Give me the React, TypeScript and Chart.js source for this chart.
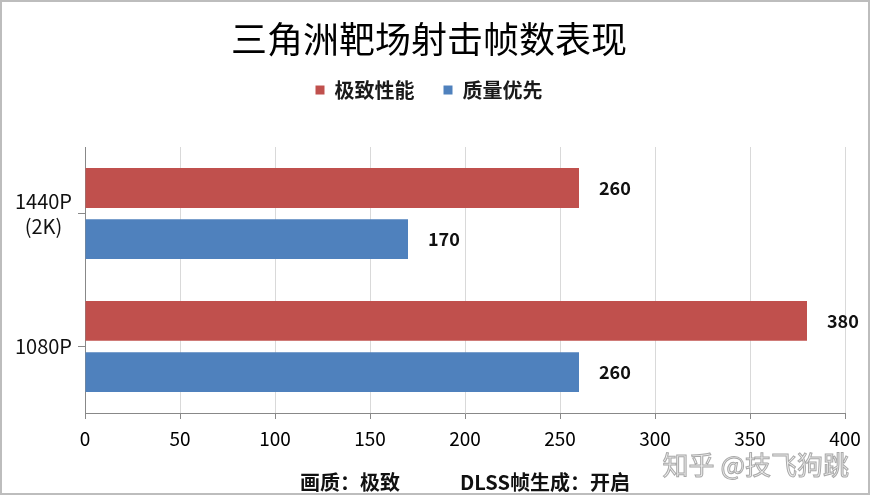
import { useEffect, useRef } from "react";
import Chart, { ChartConfiguration, Plugin } from "chart.js/auto";

// タイトル・凡例・注記
const chartTitle = "三角洲靶场射击帧数表现";
const seriesNames = ["极致性能", "质量优先"];
const seriesColors = ["#C0504D", "#4F81BD"];
const caption = "画质：极致\u3000\u3000\u3000DLSS帧生成：开启";
const watermark = "知乎 @技飞狗跳";

// カテゴリと値
const resolutions = [["1440P", "(2K)"], "1080P"];
const extremeFps = [260, 380];
const qualityFps = [170, 260];

// x軸の目盛り
const xMin = 0;
const xMax = 400;
const xStep = 50;

const FONT = "'Noto Sans CJK SC', 'Noto Sans', sans-serif";

// 凡例の下に余白を足す
const legendMargin: Plugin<"bar"> = {
  id: "legendMargin",
  beforeInit(chart) {
    const legend = chart.legend as any;
    const fit = legend.fit;
    legend.fit = function () {
      fit.bind(legend)();
      this.height += 37;
    };
  },
};

// 白い背景
const whiteBackground: Plugin<"bar"> = {
  id: "whiteBackground",
  beforeDraw(chart) {
    const ctx = chart.ctx;
    ctx.save();
    ctx.fillStyle = "#ffffff";
    ctx.fillRect(0, 0, chart.width, chart.height);
    ctx.restore();
  },
};

// 棒の右側に値を表示
const barValues: Plugin<"bar"> = {
  id: "barValues",
  afterDatasetsDraw(chart) {
    const ctx = chart.ctx;
    ctx.save();
    ctx.font = `bold 18px ${FONT}`;
    ctx.fillStyle = "#111111";
    ctx.textAlign = "left";
    ctx.textBaseline = "middle";
    chart.data.datasets.forEach((ds, i) => {
      const meta = chart.getDatasetMeta(i);
      meta.data.forEach((bar, j) => {
        const { x, y } = bar.getProps(["x", "y"], true);
        ctx.fillText(String(ds.data[j]), x + 20, y);
      });
    });
    ctx.restore();
  },
};

// 枠線と透かし
const frameAndMark: Plugin<"bar"> = {
  id: "frameAndMark",
  afterDraw(chart) {
    const ctx = chart.ctx;
    ctx.save();
    ctx.strokeStyle = "#bdbdbd";
    ctx.lineWidth = 2;
    ctx.strokeRect(1, 1, chart.width - 3, chart.height - 6);

    ctx.font = `26px ${FONT}`;
    ctx.textAlign = "right";
    ctx.textBaseline = "middle";
    ctx.lineWidth = 1;
    ctx.strokeStyle = "#a8a8a8";
    ctx.fillStyle = "#f0f0f0";
    ctx.fillText(watermark, 849, 465);
    ctx.strokeText(watermark, 849, 465);
    ctx.restore();
  },
};

const App = () => {
  const chartRef = useRef<HTMLCanvasElement>(null);

  useEffect(() => {
    document.body.style.margin = "0";
    let myChart: Chart | null = null;

    if (chartRef.current) {
      const config: ChartConfiguration<"bar"> = {
        type: "bar",
        data: {
          labels: resolutions,
          datasets: [
            {
              label: seriesNames[0],
              data: extremeFps,
              backgroundColor: seriesColors[0],
              borderWidth: 0,
              categoryPercentage: 0.77,
              barPercentage: 0.78,
            },
            {
              label: seriesNames[1],
              data: qualityFps,
              backgroundColor: seriesColors[1],
              borderWidth: 0,
              categoryPercentage: 0.77,
              barPercentage: 0.78,
            },
          ],
        },
        options: {
          indexAxis: "y",
          responsive: false,
          animation: false,
          layout: {
            padding: { left: 13, right: 26, top: 0, bottom: 0 },
          },
          plugins: {
            title: {
              display: true,
              text: chartTitle,
              color: "#000000",
              font: { family: FONT, size: 36, weight: "normal", lineHeight: 0.667 },
              padding: { top: 27, bottom: 0 },
            },
            legend: {
              display: true,
              position: "top",
              labels: {
                boxWidth: 9,
                boxHeight: 9,
                padding: 29,
                color: "#1a1a1a",
                font: { family: FONT, size: 20, weight: "bold" },
              },
            },
            tooltip: { enabled: false },
          },
          scales: {
            x: {
              min: xMin,
              max: xMax,
              ticks: {
                stepSize: xStep,
                color: "#000000",
                padding: 8,
                font: { family: FONT, size: 19 },
              },
              grid: {
                color: "#d9d9d9",
                tickColor: "#888888",
                tickLength: 6,
              },
              border: { color: "#888888", width: 1 },
              title: {
                display: true,
                text: caption,
                color: "#111111",
                font: { family: FONT, size: 20, weight: "bold", lineHeight: 1.2 },
                padding: { top: 0, bottom: 5 },
              },
              afterFit: (scale) => {
                scale.height = 86;
              },
            },
            y: {
              ticks: {
                color: "#111111",
                padding: 6,
                crossAlign: "center",
                font: { family: FONT, size: 20, lineHeight: 1.25 },
              },
              grid: {
                offset: false,
                drawOnChartArea: false,
                tickColor: "#888888",
                tickLength: 7,
              },
              border: { color: "#888888", width: 1 },
              afterFit: (scale) => {
                scale.width = 72;
              },
            },
          },
        },
        plugins: [legendMargin, whiteBackground, barValues, frameAndMark],
      };
      myChart = new Chart(chartRef.current, config);
    }
    return () => {
      if (myChart) {
        myChart.destroy();
      }
    };
  }, []);

  return (
    <div style={{ width: 871, height: 499 }}>
      <canvas ref={chartRef} width={871} height={499} style={{ display: "block" }} />
    </div>
  );
};

export default App;
